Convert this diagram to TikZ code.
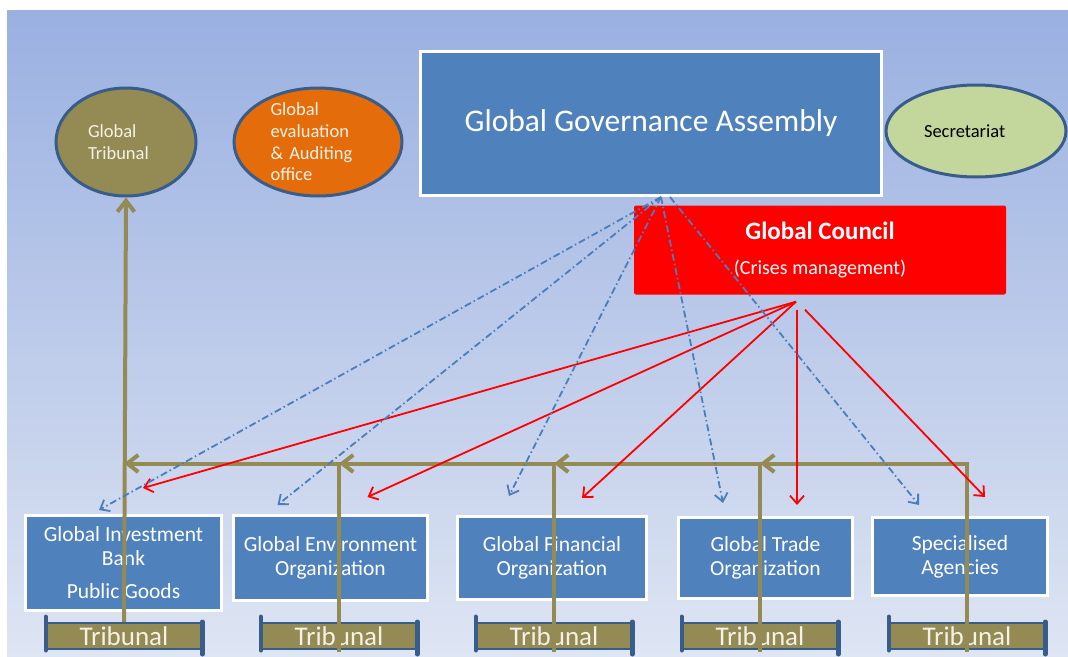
\documentclass[tikz,border=0pt]{standalone}
\usepackage{fontspec}
\setmainfont{Carlito}
\usetikzlibrary{shapes.geometric,arrows.meta,positioning,calc}

\definecolor{panelTop}{RGB}{154,176,225}
\definecolor{panelBottom}{RGB}{222,229,243}
\definecolor{orgBlue}{RGB}{79,129,189}
\definecolor{rimBlue}{RGB}{56,93,138}
\definecolor{tribOlive}{RGB}{148,138,84}
\definecolor{auditOrange}{RGB}{228,108,10}
\definecolor{secGreen}{RGB}{195,214,155}
\definecolor{liaisonBlue}{RGB}{74,126,187}
\definecolor{cream}{RGB}{244,242,230}

\begin{document}
\begin{tikzpicture}[
    x=1pt, y=-1pt,
    font=\fontsize{21.5}{24}\selectfont,
    org/.style={rectangle, draw=white, line width=3pt, fill=orgBlue, text=white, align=center, inner sep=2pt},
    body/.style={ellipse, draw=rimBlue, line width=3pt, inner sep=-12pt, align=left, text=cream, font=\fontsize{18.5}{21.7}\selectfont},
    scroll/.style={rectangle, draw=rimBlue, line width=2.5pt, fill=tribOlive, text=cream, minimum width=154, minimum height=26, inner sep=0pt, font=\fontsize{27}{27}\selectfont},
    curl/.style={rimBlue, line width=4.5pt, line cap=round},
    feed/.style={tribOlive, line width=4pt, line cap=rect},
    feedtip/.style={tribOlive, line width=4pt, -{Straight Barb[length=11pt,width=17pt]}},
    directive/.style={red, line width=1.8pt, -{Straight Barb[length=8pt,width=14pt]}},
    liaison/.style={liaisonBlue, line width=1.8pt, dash pattern=on 7pt off 3pt on 1.5pt off 3pt, -{Straight Barb[length=8pt,width=13pt]}}
]
    \useasboundingbox (0,0) rectangle (1068,656);
    \fill[white] (0,0) rectangle (1068,656);
    \shade[top color=panelTop, bottom color=panelBottom] (7,10) rectangle (1068,656);

    % Bodies beside the assembly
    \node[body, fill=tribOlive, minimum width=140, minimum height=108, text width=76] (tribunal) at (126,142) {Global\\Tribunal};
    \node[body, fill=auditOrange, minimum width=168, minimum height=108, text width=95] (audit) at (318,142) {Global\\evaluation\\\& Auditing\\office};
    \node[body, fill=secGreen, text=black, minimum width=180, minimum height=92, text width=104] (secretariat) at (976,131) {Secretariat};

    % Assembly and council
    \node[org, minimum width=461, minimum height=144, font=\fontsize{31.5}{34}\selectfont] (assembly) at (651,123.5) {Global Governance Assembly};
    \node[rectangle, fill=red, text=white, rounded corners=2pt, minimum width=372, minimum height=89, align=center, font=\fontsize{20}{35}\selectfont] (council) at (820,250)
        {{\bfseries\fontsize{25}{35}\selectfont Global Council}\\(Crises management)};

    % Organizations
    \node[org, minimum width=196, minimum height=95] (gib) at (123.5,563) {Global Investment\\Bank\\[9pt]Public Goods};
    \node[org, minimum width=194, minimum height=85] (geo) at (330.5,558) {Global Environment\\Organization};
    \node[org, minimum width=189, minimum height=83] (gfo) at (552,558) {Global Financial\\Organization};
    \node[org, minimum width=174, minimum height=81] (gto) at (765.5,558) {Global Trade\\Organization};
    \node[org, minimum width=175, minimum height=78] (spa) at (960,556.5) {Specialised\\Agencies};

    % Tribunal scrolls
    \foreach \n/\x in {1/124,2/339,3/554,4/760,5/967} {
        \node[scroll] (t\n) at (\x,636) {Tribunal};
        \draw[curl] (t\n.south west) -- ([yshift=5pt]t\n.north west);
        \draw[curl] ([yshift=-4pt]t\n.south east) -- (t\n.north east);
        \coordinate (j\n) at (\x,463.5);
    }

    % Appeals up to the global tribunal
    \foreach \n in {2,...,5} \draw[feed] (t\n.south) -- (j\n);
    \foreach \a/\b in {5/4,4/3,3/2,2/1} \draw[feedtip] (j\a) -- (j\b);
    \draw[feedtip] (t1.north) -- (tribunal.south);

    % Council directives
    \coordinate (gc1) at ($(council.south)+(-24,7)$);
    \coordinate (gc2) at ($(council.south)+(-23,15)$);
    \coordinate (gc3) at ($(council.south)+(-15,15)$);
    \draw[directive] (gc1) -- ($(gib.north)+(19.5,-26)$);
    \draw[directive] (gc1) -- ($(geo.north)+(37,-17)$);
    \draw[directive] (gc1) -- ($(gfo.north)+(30,-17)$);
    \draw[directive] (gc2) -- ($(gto.north)+(31.5,-11)$);
    \draw[directive] (gc3) -- ($(spa.north)+(25,-19)$);

    % Assembly links
    \coordinate (ga1) at ($(assembly.south)+(10,0)$);
    \coordinate (ga2) at ($(assembly.south)+(19,0)$);
    \foreach \o/\dx/\dy/\s in {gib/-24.5/-4/1, geo/-53/-9/1, gfo/-43/-19/1, gto/-42.5/-13/1, spa/-41/-11/2}
        \draw[liaison] (ga\s) -- ($(\o.north)+(\dx,\dy)$);
\end{tikzpicture}
\end{document}
